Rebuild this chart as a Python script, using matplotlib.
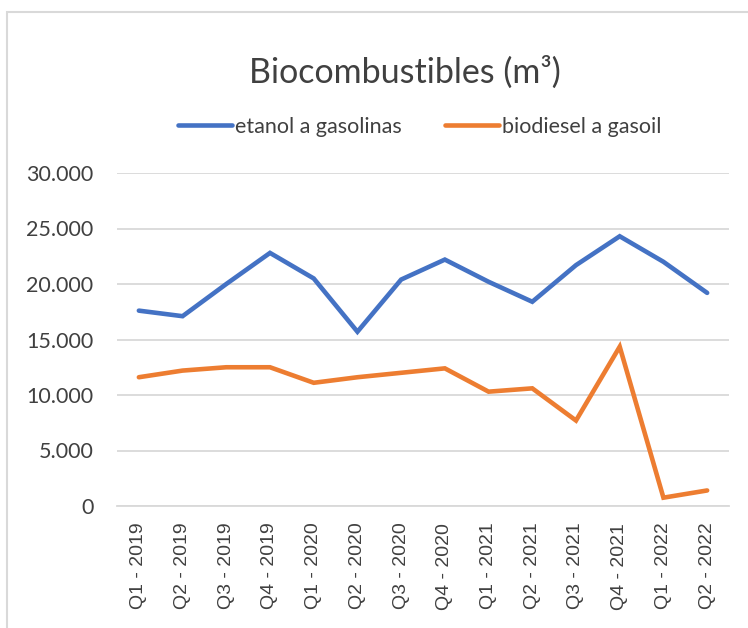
import matplotlib
matplotlib.use("Agg")
from matplotlib import pyplot as plt
from matplotlib.patches import Rectangle
from matplotlib.ticker import FuncFormatter

quarters = ["Q1 - 2019", "Q2 - 2019", "Q3 - 2019", "Q4 - 2019",
            "Q1 - 2020", "Q2 - 2020", "Q3 - 2020", "Q4 - 2020",
            "Q1 - 2021", "Q2 - 2021", "Q3 - 2021", "Q4 - 2021",
            "Q1 - 2022", "Q2 - 2022"]
etanol = [17600, 17100, 20000, 22800, 20500, 15700, 20400, 22200,
          20200, 18400, 21700, 24300, 22000, 19200]
biodiesel = [11600, 12200, 12500, 12500, 11100, 11600, 12000, 12400,
             10300, 10600, 7700, 14350, 750, 1400]
yticks = [0, 5000, 10000, 15000, 20000, 25000, 30000]

txt = "#404040"
grid = "#d9d9d9"

fig = plt.figure(figsize=(7.48, 6.28), dpi=100)
ax = fig.add_axes([117 / 748, 1 - 506 / 628, (729 - 117) / 748, (506 - 173) / 628])

x = list(range(len(quarters)))
ax.plot(x, etanol, color="#4472C4", lw=3.3, solid_capstyle="round",
        solid_joinstyle="miter", label="etanol a gasolinas")
ax.plot(x, biodiesel, color="#ED7D31", lw=3.3, solid_capstyle="round",
        solid_joinstyle="miter", label="biodiesel a gasoil")

ax.set_xlim(-0.5, len(quarters) - 0.5)
ax.set_ylim(0, 30000)
ax.set_yticks(yticks)
ax.yaxis.set_major_formatter(FuncFormatter(lambda v, p: f"{int(v):,}".replace(",", ".")))
ax.set_xticks(x)
ax.set_xticklabels(quarters, rotation=90, family="Liberation Sans", fontsize=14, color=txt)
for lab in ax.get_yticklabels():
    lab.set_family("Lato")
    lab.set_fontsize(15.5)
    lab.set_color(txt)
ax.tick_params(axis="both", length=0)
ax.tick_params(axis="y", pad=17)
ax.tick_params(axis="x", pad=12)
ax.grid(axis="y", color=grid, lw=1.3)
ax.set_axisbelow(True)
for s in ["top", "right", "left"]:
    ax.spines[s].set_visible(False)
ax.spines["bottom"].set_color(grid)
ax.spines["bottom"].set_linewidth(1.3)

fig.text(405 / 748, 1 - 72 / 628, "Biocombustibles (m³)", ha="center", va="center",
         fontsize=24.5, family="Lato", color=txt)
fig.legend(loc="center", bbox_to_anchor=(420 / 748, 1 - 127 / 628), ncol=2, frameon=False,
           prop={"family": "Lato", "size": 15.5}, handlelength=2.5, handletextpad=0.15,
           columnspacing=2.0, labelcolor=txt)

fig.add_artist(Rectangle((7 / 748, -0.1), 1.2, 1.1 - 12 / 628, transform=fig.transFigure,
                         fill=False, ec=grid, lw=1.5))

fig.savefig("out.png", dpi=100)
